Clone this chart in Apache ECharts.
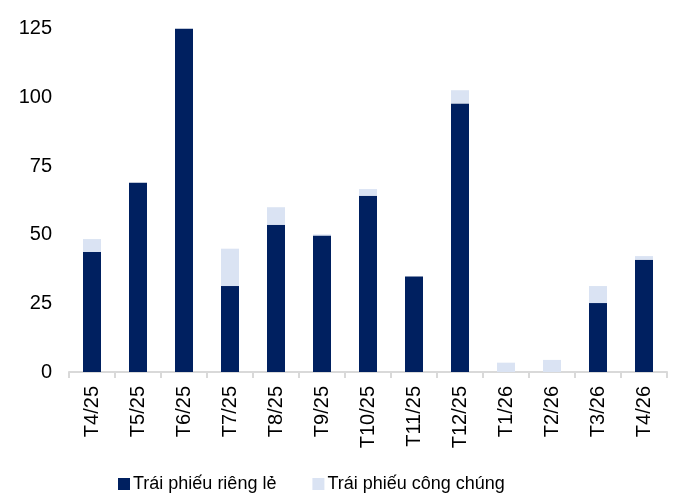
<!DOCTYPE html>
<html>
<head>
<meta charset="utf-8">
<script src="https://cdn.jsdelivr.net/npm/echarts@6/dist/echarts.min.js"></script>
<style>
  html, body { margin: 0; padding: 0; background: #fff; }
  #chart { width: 677px; height: 501px; }
</style>
</head>
<body>
<div id="chart"></div>
<script>
const months = ["T4/25", "T5/25", "T6/25", "T7/25", "T8/25", "T9/25", "T10/25", "T11/25", "T12/25", "T1/26", "T2/26", "T3/26", "T4/26"];
// private placement bonds
const rieng = [43.7, 68.9, 125, 31.3, 53.6, 49.7, 64.2, 34.8, 97.8, 0, 0, 25.1, 40.9];
// public bonds
const congChung = [4.7, 0, 0, 13.6, 6.4, 0.4, 2.4, 0, 4.8, 3.4, 4.4, 6.2, 1.3];
const yTicks = [0, 25, 50, 75, 100, 125];

const font = "Liberation Sans, Arial, sans-serif";

const chart = echarts.init(document.getElementById("chart"));
chart.setOption({
  animation: false,
  textStyle: { fontFamily: font },
  grid: { left: 69, right: 10, top: 28.7, bottom: 129 },
  legend: {
    left: 118,
    bottom: 8,
    padding: 0,
    itemWidth: 12,
    itemHeight: 12,
    itemGap: 36,
    icon: "rect",
    textStyle: { fontSize: 18, color: "#000", fontFamily: font, padding: [0, 0, 0, -2] },
    data: ["Trái phiếu riêng lẻ", "Trái phiếu công chúng"],
  },
  xAxis: {
    type: "category",
    data: months,
    axisLine: { lineStyle: { color: "#d9d9d9", width: 2 } },
    axisTick: { show: true, length: 6, lineStyle: { color: "#d9d9d9", width: 2 } },
    axisLabel: { rotate: 90, fontSize: 20, color: "#000", margin: 14, fontFamily: font },
  },
  yAxis: {
    type: "value",
    min: yTicks[0],
    max: yTicks[yTicks.length - 1],
    interval: 25,
    axisLine: { show: false },
    axisTick: { show: false },
    splitLine: { show: false },
    axisLabel: { fontSize: 20, color: "#000", margin: 17, fontFamily: font },
  },
  series: [
    {
      name: "Trái phiếu riêng lẻ",
      type: "bar",
      stack: "total",
      barWidth: 18,
      itemStyle: { color: "#002060" },
      data: rieng,
    },
    {
      name: "Trái phiếu công chúng",
      type: "bar",
      stack: "total",
      barWidth: 18,
      itemStyle: { color: "#dae3f3" },
      data: congChung,
    },
  ],
});
</script>
</body>
</html>
